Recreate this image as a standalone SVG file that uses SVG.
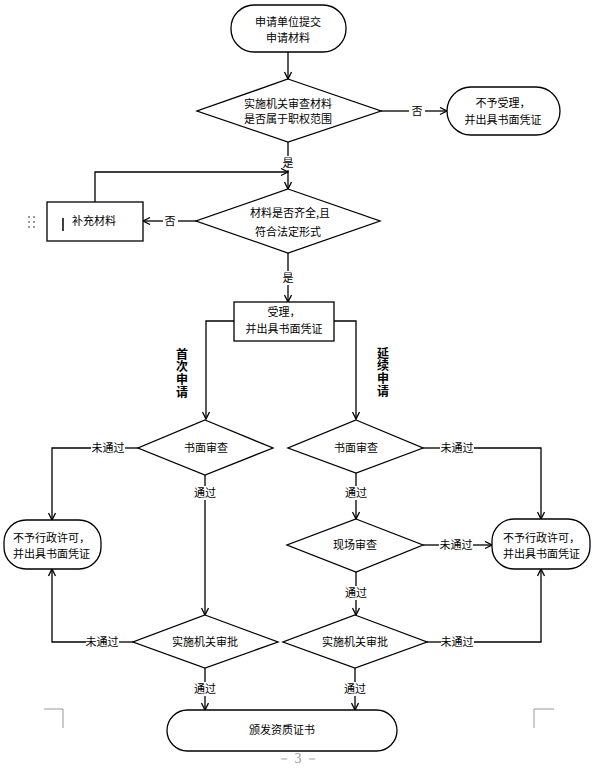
<svg xmlns="http://www.w3.org/2000/svg" width="595" height="769" viewBox="0 0 595 769">
<defs>
<marker id="arr" markerWidth="10" markerHeight="10" refX="8" refY="4" orient="auto" markerUnits="userSpaceOnUse">
<path d="M1,0.5 L8,4 L1,7.5" fill="none" stroke="#000" stroke-width="1.3"/>
</marker>
<style>
.s{fill:#fff;stroke:#000;stroke-width:1.3}
.t{font-family:"Noto Sans CJK SC","Liberation Sans",sans-serif;font-size:11px;fill:#000;text-anchor:middle}
.l{font-family:"Noto Sans CJK SC","Liberation Sans",sans-serif;font-size:11px;fill:#000;text-anchor:start}
.v{font-family:"Noto Sans CJK SC","Liberation Sans",sans-serif;font-size:12px;font-weight:bold;fill:#000;text-anchor:start;writing-mode:vertical-rl;letter-spacing:0.7px}
.c{fill:none;stroke:#000;stroke-width:1.3}
.a{fill:none;stroke:#000;stroke-width:1.3;marker-end:url(#arr)}
.g{fill:none;stroke:#999;stroke-width:1}
</style>
</defs>
<rect width="595" height="769" fill="#fff"/>

<g id="connectors">
<path class="a" d="M288,52 V79"/>
<path class="c" d="M381,111 H409"/>
<path class="a" d="M425,111 H447"/>
<path class="c" d="M288,142 V156"/>
<path class="a" d="M288,170 V189"/>
<path class="a" d="M95,202 V172 H288"/>
<path class="c" d="M196,221 H178"/>
<path class="a" d="M163,221 H143"/>
<path class="c" d="M288,253 V271"/>
<path class="a" d="M288,285 V302"/>
<path class="a" d="M234,321 H206 V419"/>
<path class="a" d="M334,321 H356 V419"/>
<path class="c" d="M138,448 H125"/>
<path class="a" d="M91,448 H52 V520"/>
<path class="c" d="M205,475 V486"/>
<path class="a" d="M205,500 V615"/>
<path class="c" d="M133,642 H119"/>
<path class="a" d="M86,642 H52 V569"/>
<path class="c" d="M205,668 V682"/>
<path class="a" d="M205,696 V710"/>
<path class="c" d="M423,448 H440"/>
<path class="a" d="M474,448 H541 V519"/>
<path class="c" d="M356,473 V486"/>
<path class="a" d="M356,500 V519"/>
<path class="c" d="M423,545 H439"/>
<path class="a" d="M473,545 H492"/>
<path class="c" d="M356,572 V586"/>
<path class="a" d="M356,600 V615"/>
<path class="c" d="M427,642 H441"/>
<path class="a" d="M474,642 H541 V569"/>
<path class="c" d="M355,668 V682"/>
<path class="a" d="M355,696 V710"/>
<text class="t" x="417" y="115">否</text>
<text class="t" x="288" y="167">是</text>
<text class="t" x="170" y="225">否</text>
<text class="t" x="288" y="282">是</text>
<text class="t" x="108" y="452">未通过</text>
<text class="t" x="205" y="497">通过</text>
<text class="t" x="102" y="646">未通过</text>
<text class="t" x="205" y="693">通过</text>
<text class="t" x="457" y="452">未通过</text>
<text class="t" x="356" y="497">通过</text>
<text class="t" x="456" y="549">未通过</text>
<text class="t" x="356" y="597">通过</text>
<text class="t" x="457" y="646">未通过</text>
<text class="t" x="355" y="693">通过</text>
<text class="v" x="182" y="348">首次申请</text>
<text class="v" x="383" y="347">延续申请</text>
</g>

<g id="n_start">
<rect class="s" x="231" y="5" width="115" height="47" rx="23" ry="23"/>
<text class="t" x="288" y="26">申请单位提交</text>
<text class="t" x="288" y="42">申请材料</text>
</g>

<g id="n_d1">
<polygon class="s" points="288,79 381,111 288,142 197,111"/>
<text class="t" x="288" y="108">实施机关审查材料</text>
<text class="t" x="288" y="123">是否属于职权范围</text>
</g>

<g id="n_reject1">
<rect class="s" x="447" y="87" width="113" height="48" rx="24" ry="24"/>
<text class="t" x="503" y="107">不予受理，</text>
<text class="t" x="503" y="124">并出具书面凭证</text>
</g>

<g id="n_d2">
<polygon class="s" points="288,189 380,221 288,253 196,221"/>
<text class="t" x="290" y="217">材料是否齐全,且</text>
<text class="t" x="288" y="236">符合法定形式</text>
</g>

<g id="n_supp">
<rect class="s" x="47" y="202" width="96" height="39"/>
<line x1="63" y1="218" x2="63" y2="231" stroke="#000" stroke-width="1.5"/>
<text class="l" x="72" y="225">补充材料</text>
<g fill="#999">
<rect x="28" y="216" width="2" height="2"/><rect x="33" y="216" width="2" height="2"/>
<rect x="28" y="221" width="2" height="2"/><rect x="33" y="221" width="2" height="2"/>
<rect x="28" y="226" width="2" height="2"/><rect x="33" y="226" width="2" height="2"/>
</g>
</g>

<g id="n_accept">
<rect class="s" x="234" y="302" width="100" height="39"/>
<text class="t" x="284" y="316">受理，</text>
<text class="t" x="284" y="333">并出具书面凭证</text>
</g>

<g id="n_review1">
<polygon class="s" points="205,420 273,448 205,475 138,448"/>
<text class="t" x="206" y="452">书面审查</text>
</g>

<g id="n_review2">
<polygon class="s" points="356,420 423,448 356,473 288,448"/>
<text class="t" x="356" y="452">书面审查</text>
</g>

<g id="n_site">
<polygon class="s" points="356,519 423,545 356,572 287,545"/>
<text class="t" x="355" y="549">现场审查</text>
</g>

<g id="n_reject_left">
<rect class="s" x="4" y="520" width="97" height="49" rx="22" ry="22"/>
<text class="l" x="13" y="542">不予行政许可，</text>
<text class="l" x="13" y="558">并出具书面凭证</text>
</g>

<g id="n_reject_right">
<rect class="s" x="492" y="519" width="98" height="50" rx="22" ry="22"/>
<text class="l" x="503" y="542">不予行政许可，</text>
<text class="l" x="503" y="558">并出具书面凭证</text>
</g>

<g id="n_approve1">
<polygon class="s" points="205,615 278,642 205,668 133,642"/>
<text class="t" x="205" y="646">实施机关审批</text>
</g>

<g id="n_approve2">
<polygon class="s" points="355,615 427,642 355,668 283,642"/>
<text class="t" x="355" y="646">实施机关审批</text>
</g>

<g id="n_end">
<rect class="s" x="167" y="710" width="230" height="41" rx="20.5" ry="20.5"/>
<text class="t" x="282" y="734">颁发资质证书</text>
</g>

<path class="g" d="M44,709 H63 V728"/>
<path class="g" d="M554,709 H534 V728"/>
<text x="298" y="763" font-family="Liberation Serif, serif" font-size="14" fill="#999" text-anchor="middle">－ 3 －</text>
</svg>
